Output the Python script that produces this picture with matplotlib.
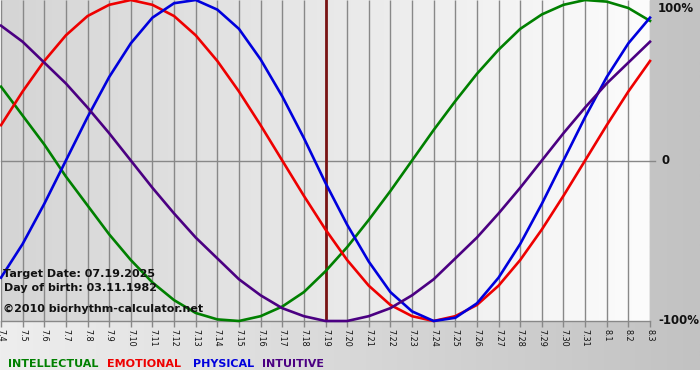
import matplotlib
matplotlib.use('Agg')
import matplotlib.pyplot as plt
import numpy as np
from matplotlib.colors import LinearSegmentedColormap

# ---- data ----
dates = ['7.4', '7.5', '7.6', '7.7', '7.8', '7.9', '7.10', '7.11', '7.12', '7.13',
         '7.14', '7.15', '7.16', '7.17', '7.18', '7.19', '7.20', '7.21', '7.22', '7.23',
         '7.24', '7.25', '7.26', '7.27', '7.28', '7.29', '7.30', '7.31', '8.1', '8.2', '8.3']
intellectual = [0.46, 0.28, 0.10, -0.10, -0.28, -0.46, -0.62, -0.76, -0.87, -0.95,
                -0.99, -1.00, -0.97, -0.91, -0.82, -0.69, -0.54, -0.37, -0.19, 0.00,
                0.19, 0.37, 0.54, 0.69, 0.82, 0.91, 0.97, 1.00, 0.99, 0.95, 0.87]
emotional = [0.22, 0.43, 0.62, 0.78, 0.90, 0.97, 1.00, 0.97, 0.90, 0.78,
             0.62, 0.43, 0.22, 0.00, -0.22, -0.43, -0.62, -0.78, -0.90, -0.97,
             -1.00, -0.97, -0.90, -0.78, -0.62, -0.43, -0.22, 0.00, 0.22, 0.43, 0.62]
physical = [-0.73, -0.52, -0.27, 0.00, 0.27, 0.52, 0.73, 0.89, 0.98, 1.00,
            0.94, 0.82, 0.63, 0.40, 0.14, -0.14, -0.40, -0.63, -0.82, -0.94,
            -1.00, -0.98, -0.89, -0.73, -0.52, -0.27, 0.00, 0.27, 0.52, 0.73, 0.89]
intuitive = [0.84, 0.74, 0.61, 0.48, 0.33, 0.17, 0.00, -0.17, -0.33, -0.48,
             -0.61, -0.74, -0.84, -0.92, -0.97, -1.00, -1.00, -0.97, -0.92, -0.84,
             -0.74, -0.61, -0.48, -0.33, -0.17, 0.00, 0.17, 0.33, 0.48, 0.61, 0.74]
target_day = '7.19'
series_names = ['INTELLECTUAL', 'EMOTIONAL', 'PHYSICAL', 'INTUITIVE']
series_colors = ['#008000', '#ee0000', '#0000dd', '#4b0082']
info_lines = ['Target Date: 07.19.2025', 'Day of birth: 03.11.1982']
copyright_text = '\u00a92010 biorhythm-calculator.net'
y_labels = ['100%', '0', '-100%']

W, H = 700, 380
fig = plt.figure(figsize=(W / 100, H / 100), dpi=100)

# figure background gradient
bg = fig.add_axes([0, 0, 1, 1], zorder=-10)
bg_cmap = LinearSegmentedColormap.from_list('bg', ['#eeeeee', '#c2c2c2'])
bg.imshow(np.linspace(0, 1, 256)[None, :], aspect='auto', cmap=bg_cmap,
          extent=[0, 1, 0, 1], origin='lower')
bg.axhspan(0, 10 / H, color='white', lw=0)
bg.set_xlim(0, 1)
bg.set_ylim(0, 1)
bg.axis('off')


def px(x, y):
    return x / W, 1 - y / H


x0, x1, y0, y1 = 1, 650, 0, 321
ax = fig.add_axes([x0 / W, 1 - y1 / H, (x1 - x0) / W, (y1 - y0) / H])
ax.set_facecolor('none')
n = len(dates) - 1
plot_cmap = LinearSegmentedColormap.from_list('pl', ['#d5d5d5', '#fcfcfc'])
ax.imshow(np.linspace(0, 1, 256)[None, :], aspect='auto', cmap=plot_cmap,
          extent=[0, n, -1, 1], origin='lower', zorder=0)

x = np.arange(len(dates))
ax.vlines(x, -1, 1, color='#888888', lw=1, zorder=1)
ax.plot([0, n + 0.25], [0, 0], color='#888888', lw=1, zorder=1, clip_on=False)
ax.axvline(dates.index(target_day), color='#7a1414', lw=2, zorder=2)

for vals, col in zip([intellectual, emotional, physical, intuitive], series_colors):
    ax.plot(x, vals, color=col, lw=1.9, zorder=3, clip_on=False,
            solid_joinstyle='round')

ax.set_xlim(0, n)
ax.set_ylim(-1, 1)
for s in ['top', 'left', 'right']:
    ax.spines[s].set_visible(False)
ax.spines['bottom'].set_color('#888888')
ax.spines['bottom'].set_linewidth(1)
ax.set_yticks([])
ax.set_xticks(x)
ax.set_xticklabels(dates, rotation=270, fontsize=5.8, color='#111111')
ax.tick_params(axis='x', direction='out', length=4, width=1, color='#888888', pad=2)

# right-hand y labels
fig.text(*px(658, 8), y_labels[0], ha='left', va='center',
         fontsize=8.5, fontweight='bold', color='#111111')
fig.text(*px(662, 161), y_labels[1], ha='left', va='center',
         fontsize=8.5, fontweight='bold', color='#111111')
fig.text(*px(658, 321), y_labels[2], ha='left', va='center',
         fontsize=8.5, fontweight='bold', color='#111111')

# info text
fig.text(*px(3, 277), info_lines[0], fontsize=8, fontweight='bold', color='#111111',
         va='baseline', ha='left')
fig.text(*px(4, 291), info_lines[1], fontsize=8, fontweight='bold', color='#111111',
         va='baseline', ha='left')
fig.text(*px(3, 312), copyright_text, fontsize=8, fontweight='bold', color='#111111',
         va='baseline', ha='left')

# legend
leg_x = [8, 107, 193, 262]
for name, col, lx in zip(series_names, series_colors, leg_x):
    fig.text(*px(lx, 367), name, fontsize=8, fontweight='bold', color=col,
             va='baseline', ha='left')

fig.savefig('out.png', dpi=100)
